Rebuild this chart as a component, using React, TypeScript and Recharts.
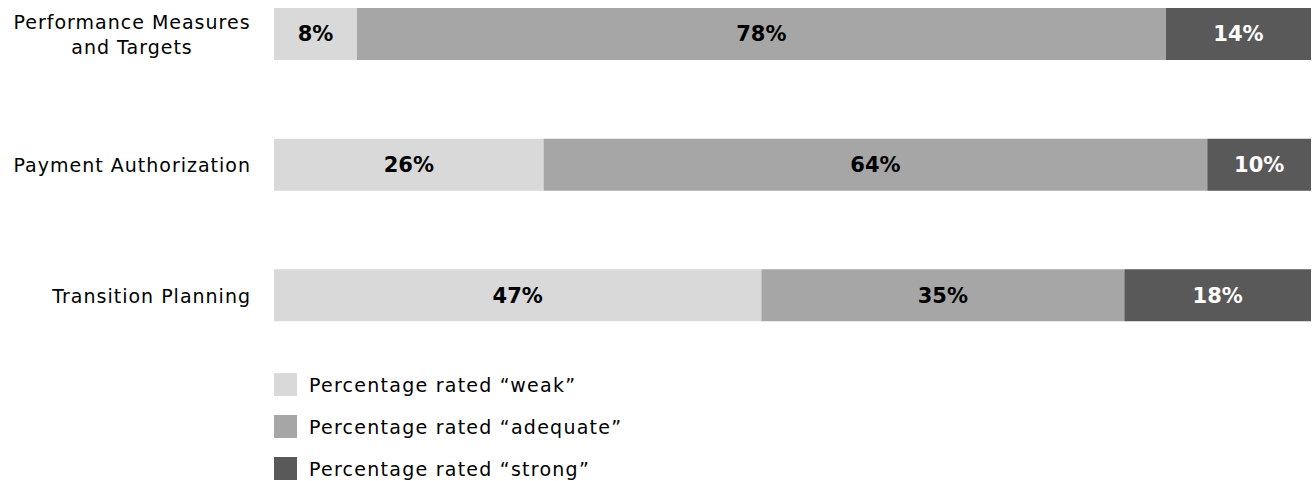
import { BarChart, Bar, XAxis, YAxis, LabelList, Legend } from "recharts";

const categoryLines = [
  ["Performance Measures", "and Targets"],
  ["Payment Authorization"],
  ["Transition Planning"],
];
const weak = [8, 26, 47];
const adequate = [78, 64, 35];
const strong = [14, 10, 18];

const seriesKeys = ["weak", "adequate", "strong"];
const seriesNames = [
  "Percentage rated \u201cweak\u201d",
  "Percentage rated \u201cadequate\u201d",
  "Percentage rated \u201cstrong\u201d",
];
const seriesColors = ["#d9d9d9", "#a6a6a6", "#595959"];
const labelColors = ["#000000", "#000000", "#ffffff"];

const data = categoryLines.map((lines, i) => ({
  name: lines.join(" "),
  weak: weak[i],
  adequate: adequate[i],
  strong: strong[i],
}));

const FONT = "'DejaVu Sans', sans-serif";
const TOP_SHIFT = -31;

function CategoryTick({ y, payload }: any) {
  const lines = categoryLines.find((l) => l.join(" ") === payload.value) || [payload.value];
  const right = 251;
  if (lines.length === 1) {
    return (
      <text x={right} y={y} textAnchor="end" dominantBaseline="central" fontSize={19} letterSpacing={1} fill="#000" fontFamily={FONT}>
        {lines[0]}
      </text>
    );
  }
  const mid = 132;
  return (
    <text fontSize={19} letterSpacing={1} fill="#000" fontFamily={FONT} dominantBaseline="central">
      {lines.map((l, i) => (
        <tspan key={i} x={mid} y={y + (i - (lines.length - 1) / 2) * 25} textAnchor="middle">
          {l}
        </tspan>
      ))}
    </text>
  );
}

function LegendBox() {
  return (
    <div style={{ fontFamily: FONT, fontSize: 19, letterSpacing: 1.25, color: "#000" }}>
      {seriesNames.map((n, i) => (
        <div key={n} style={{ display: "flex", alignItems: "center", height: 23, marginBottom: 19 }}>
          <div style={{ width: 23, height: 23, background: seriesColors[i], marginRight: 12 }} />
          <span>{n}</span>
        </div>
      ))}
    </div>
  );
}

export default function App() {
  return (
    <div style={{ position: "absolute", top: TOP_SHIFT, left: 0 }}>
      <BarChart
        width={1313}
        height={512}
        data={data}
        layout="vertical"
        barSize={52}
        margin={{ top: 0, right: 2, bottom: 120, left: 0 }}
      >
        <XAxis type="number" domain={[0, 100]} hide />
        <YAxis type="category" dataKey="name" width={274} axisLine={false} tickLine={false} tick={<CategoryTick />} />
        <Legend
          layout="horizontal"
          verticalAlign="middle"
          align="center"
          content={() => <LegendBox />}
          wrapperStyle={{ top: 373 - TOP_SHIFT, left: 274, width: "auto" }}
        />
        {seriesKeys.map((k, i) => (
          <Bar key={k} dataKey={k} name={seriesNames[i]} stackId="a" fill={seriesColors[i]} isAnimationActive={false}>
            <LabelList
              dataKey={k}
              position="center"
              formatter={(v: any) => `${v}%`}
              fill={labelColors[i]}
              fontSize={21}
              fontWeight="bold"
              fontFamily={FONT}
            />
          </Bar>
        ))}
      </BarChart>
    </div>
  );
}
